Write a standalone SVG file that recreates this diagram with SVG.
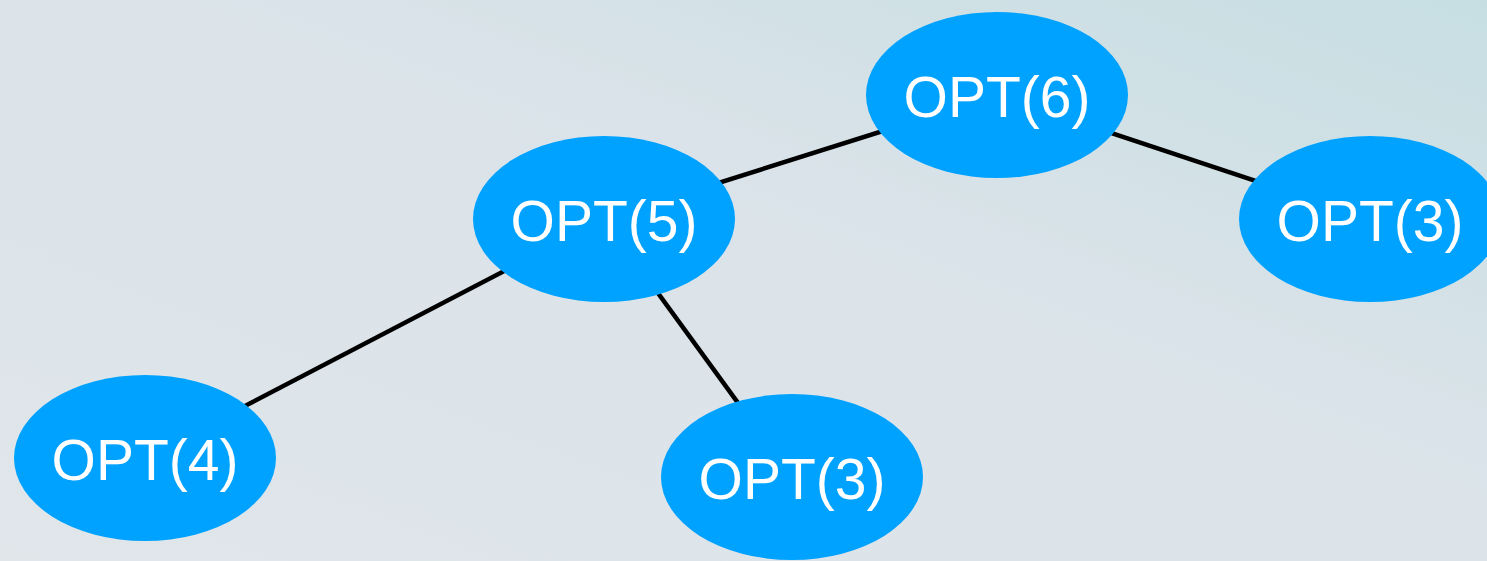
<svg xmlns="http://www.w3.org/2000/svg" width="1487" height="561" viewBox="0 0 1487 561">
  <defs>
    <linearGradient id="bg" x1="0" y1="1" x2="1" y2="0">
      <stop offset="0" stop-color="#e0e6ea"/>
      <stop offset="0.6" stop-color="#dae3e9"/>
      <stop offset="1" stop-color="#c6dee2"/>
    </linearGradient>
    <style>
      .edge { stroke: #000; stroke-width: 4.5; }
      .node ellipse { fill: #00a2ff; }
      .node text { fill: #fff; font-family: "Liberation Sans", Arial, sans-serif; font-size: 57px; text-anchor: middle; }
    </style>
  </defs>
  <rect width="1487" height="561" fill="url(#bg)"/>

  <!-- tree edges, drawn centre to centre beneath the nodes -->
  <g id="connectors">
    <line class="edge" x1="997" y1="95" x2="604" y2="219"/>
    <line class="edge" x1="997" y1="95" x2="1370" y2="219"/>
    <line class="edge" x1="604" y1="219" x2="145" y2="458"/>
    <line class="edge" x1="604" y1="219" x2="792" y2="477"/>
  </g>

  <g id="opt6" class="node">
    <ellipse cx="997" cy="95" rx="131" ry="83"/>
    <text x="997" y="117">OPT(6)</text>
  </g>
  <g id="opt5" class="node">
    <ellipse cx="604" cy="219" rx="131" ry="83"/>
    <text x="604" y="241">OPT(5)</text>
  </g>
  <g id="opt3-right" class="node">
    <ellipse cx="1370" cy="219" rx="131" ry="83"/>
    <text x="1370" y="241">OPT(3)</text>
  </g>
  <g id="opt4" class="node">
    <ellipse cx="145" cy="458" rx="131" ry="83"/>
    <text x="145" y="480">OPT(4)</text>
  </g>
  <g id="opt3-bottom" class="node">
    <ellipse cx="792" cy="477" rx="131" ry="83"/>
    <text x="792" y="499">OPT(3)</text>
  </g>
</svg>
